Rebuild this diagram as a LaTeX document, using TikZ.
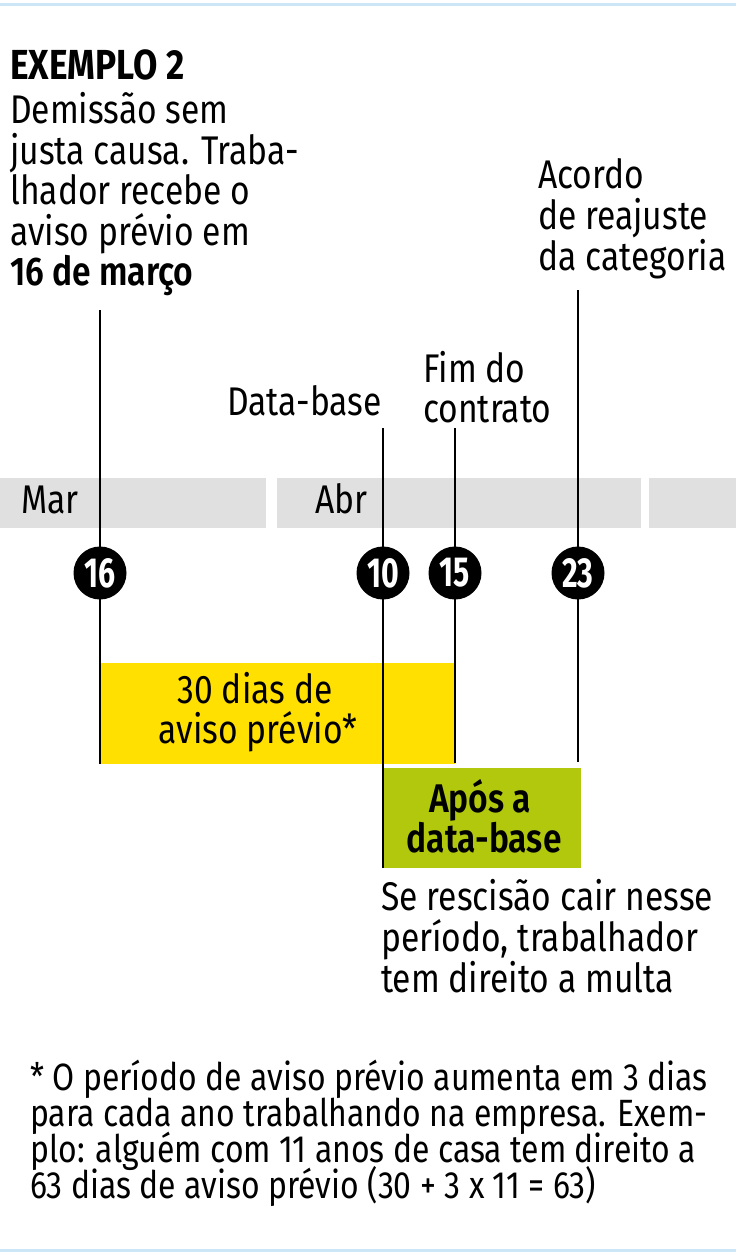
\documentclass[tikz,border=0pt]{standalone}
\usepackage{fontspec}
\setmainfont{Fira Sans}[FakeStretch=0.84]
\newfontfamily\numfont{Fira Sans}[FakeStretch=0.72]
\newfontfamily\semifont{Fira Sans SemiBold}[FakeStretch=0.84]
\definecolor{frameblue}{RGB}{204,230,247}
\definecolor{bargray}{RGB}{224,224,224}
\definecolor{avisoyellow}{RGB}{255,224,0}
\definecolor{aposgreen}{RGB}{178,200,12}
\tikzset{
  bodytxt/.style={inner sep=0pt, font=\fontsize{40}{41.5}\selectfont},
  foottxt/.style={inner sep=0pt, font=\fontsize{38}{36}\selectfont},
  boldtxt/.style={inner sep=0pt, font=\fontsize{40}{41.5}\selectfont\bfseries},
  semitxt/.style={inner sep=0pt, font=\fontsize{40}{41.5}\semifont},
  titletxt/.style={inner sep=0pt, font=\fontsize{42}{42}\selectfont\bfseries},
  monthbar/.style={fill=bargray, draw=none},
  dayline/.style={draw=black, line width=1.8pt},
  daycircle/.style={circle, fill=black, minimum size=53pt, inner sep=0pt, text=white, font=\fontsize{42}{42}\numfont\bfseries},
  framebar/.style={draw=frameblue, line width=3pt}
}
\begin{document}
\begin{tikzpicture}[x=1pt,y=-1pt]
\useasboundingbox (0,0) rectangle (736,1255);
\fill[white] (0,0) rectangle (736,1255);
% frame lines
\coordinate (ftl) at (0,5); \coordinate (ftr) at (736,5);
\coordinate (fbl) at (0,1250); \coordinate (fbr) at (736,1250);
\draw[framebar] (ftl) -- (ftr);
\draw[framebar] (fbl) -- (fbr);
% title and intro text
\node[titletxt, anchor=base west] (title) at (10,79) {EXEMPLO 2};
\node[bodytxt, anchor=base west] (i1) at (10,123) {Demissão sem};
\node[bodytxt, anchor=base west] (i2) at (10,164) {justa causa. Traba-};
\node[bodytxt, anchor=base west] (i3) at (10,204.5) {lhador recebe o};
\node[bodytxt, anchor=base west] (i4) at (10,245) {aviso prévio em};
\node[semitxt, anchor=base west] (i5) at (10,285) {16 de março};
% other labels
\node[bodytxt, anchor=base west] (a1) at (538,188) {Acordo};
\node[bodytxt, anchor=base west] (a2) at (538,229) {de reajuste};
\node[bodytxt, anchor=base west] (a3) at (538,270) {da categoria};
\node[bodytxt, anchor=base west] (f1) at (423,382) {Fim do};
\node[bodytxt, anchor=base west] (f2) at (423,422) {contrato};
\node[bodytxt, anchor=base east] (db) at (382,415) {Data-base};
% month bars
\fill[monthbar] (0,478) rectangle (266,528);
\fill[monthbar] (277,478) rectangle (641,528);
\fill[monthbar] (649,478) rectangle (736,528);
\node[bodytxt, anchor=base west] (mar) at (21,513) {Mar};
\node[bodytxt, anchor=base west] (abr) at (315,513) {Abr};
% period boxes
\fill[avisoyellow] (100,663) rectangle (455,764);
\fill[aposgreen] (383,768) rectangle (581,868);
\node[bodytxt, anchor=base] (y1) at (255,703) {30 dias de};
\node[bodytxt, anchor=base] (y2) at (258,743) {aviso prévio*};
\node[semitxt, anchor=base] (g1) at (480,812) {Após a};
\node[semitxt, anchor=base] (g2) at (484,852) {data-base};
% day lines
\coordinate (t16) at (100,310); \coordinate (b16) at (100,764);
\coordinate (t10) at (383,428); \coordinate (b10) at (383,868);
\coordinate (t15) at (455,428); \coordinate (b15) at (455,763);
\coordinate (t23) at (578,290); \coordinate (b23) at (578,762);
\draw[dayline] (t16) -- (b16);
\draw[dayline] (t10) -- (b10);
\draw[dayline] (t15) -- (b15);
\draw[dayline] (t23) -- (b23);
% day circles
\node[daycircle] (c16) at (100,573) {16};
\node[daycircle] (c10) at (383,573) {10};
\node[daycircle] (c15) at (455,573) {15};
\node[daycircle] (c23) at (578,573) {23};
% explanation
\node[bodytxt, anchor=base west] (e1) at (381,910) {Se rescisão cair nesse};
\node[bodytxt, anchor=base west] (e2) at (381,951) {período, trabalhador};
\node[bodytxt, anchor=base west] (e3) at (381,992) {tem direito a multa};
% footnote
\node[foottxt, anchor=base west] (n1) at (30,1090) {* O período de aviso prévio aumenta em 3 dias};
\node[foottxt, anchor=base west] (n2) at (30,1126) {para cada ano trabalhando na empresa. Exem-};
\node[foottxt, anchor=base west] (n3) at (30,1162) {plo: alguém com 11 anos de casa tem direito a};
\node[foottxt, anchor=base west] (n4) at (30,1198) {63 dias de aviso prévio (30 + 3 x 11 = 63)};
\end{tikzpicture}
\end{document}
